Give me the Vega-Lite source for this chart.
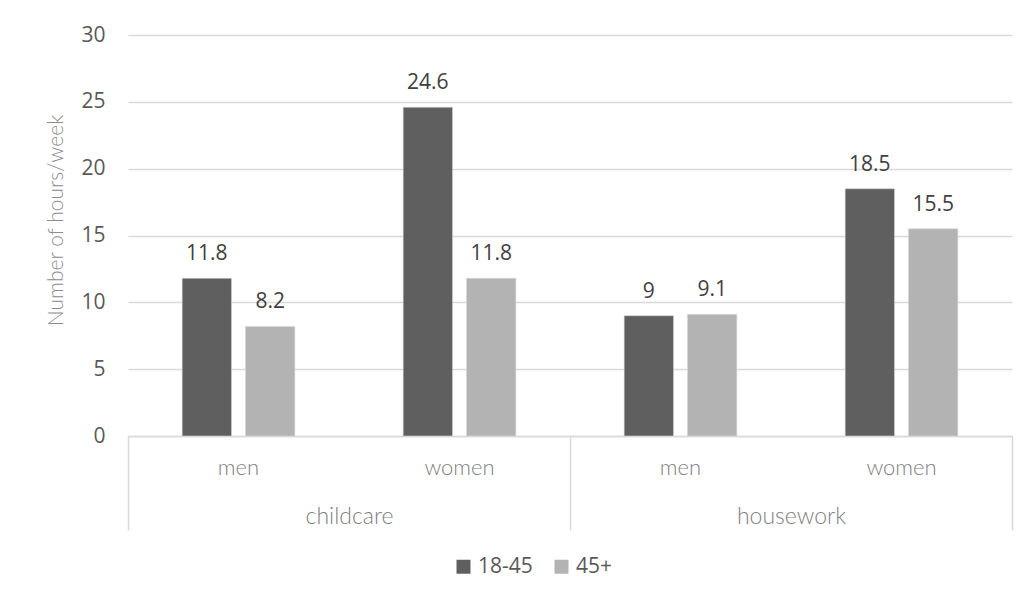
{
  "$schema": "https://vega.github.io/schema/vega-lite/v6.json",
  "width": 884,
  "height": 401,
  "autosize": {"type": "none"},
  "padding": {"left": 128, "top": 35, "right": 23, "bottom": 166},
  "background": "white",
  "config": {"font": "Open Sans", "view": {"stroke": null}},
  "data": {
    "values": [
      {"activity": "childcare", "gender": "men", "cat": "childcare|men", "age": "18-45", "hours": 11.8},
      {"activity": "childcare", "gender": "men", "cat": "childcare|men", "age": "45+", "hours": 8.2},
      {"activity": "childcare", "gender": "women", "cat": "childcare|women", "age": "18-45", "hours": 24.6},
      {"activity": "childcare", "gender": "women", "cat": "childcare|women", "age": "45+", "hours": 11.8},
      {"activity": "housework", "gender": "men", "cat": "housework|men", "age": "18-45", "hours": 9},
      {"activity": "housework", "gender": "men", "cat": "housework|men", "age": "45+", "hours": 9.1},
      {"activity": "housework", "gender": "women", "cat": "housework|women", "age": "18-45", "hours": 18.5},
      {"activity": "housework", "gender": "women", "cat": "housework|women", "age": "45+", "hours": 15.5}
    ]
  },
  "layer": [
    {
      "mark": {"type": "bar", "stroke": "#D9D9D9", "strokeWidth": 0.6},
      "encoding": {
        "x": {
          "field": "cat", "type": "nominal",
          "sort": ["childcare|men", "childcare|women", "housework|men", "housework|women"],
          "scale": {"paddingInner": 0.49, "paddingOuter": 0.245},
          "axis": {
            "orient": "bottom", "title": null, "labelAngle": 0,
            "labelExpr": "split(datum.label, '|')[1]",
            "ticks": false, "domain": true, "domainColor": "#D9D9D9", "domainWidth": 1.5,
            "labelFont": "Lato", "labelFontSize": 22, "labelFontWeight": 300, "labelColor": "#7F7F7F",
            "labelPadding": 21
          }
        },
        "xOffset": {"field": "age", "type": "nominal", "scale": {"paddingInner": 0.22}},
        "y": {
          "field": "hours", "type": "quantitative",
          "scale": {"domain": [0, 30]},
          "axis": {
            "values": [0, 5, 10, 15, 20, 25, 30],
            "title": "Number of hours/week",
            "titleFont": "Lato", "titleFontSize": 21, "titleFontWeight": 300, "titleColor": "#8C8C8C",
            "titlePadding": 14, "titleY": 185,
            "domain": false, "ticks": false,
            "labelFontSize": 21, "labelColor": "#595959", "labelPadding": 23,
            "gridColor": "#D9D9D9", "gridWidth": 1.5
          }
        },
        "color": {
          "field": "age", "type": "nominal",
          "scale": {"range": ["#5F5F5F", "#B3B3B3"]},
          "legend": {
            "title": null, "orient": "none", "legendX": 325, "legendY": 521,
            "direction": "horizontal", "symbolType": "square", "symbolSize": 196,
            "symbolStrokeWidth": 0, "labelFontSize": 21, "labelColor": "#595959",
            "padding": 0, "columnPadding": 18, "labelOffset": 4
          }
        }
      }
    },
    {
      "mark": {"type": "text", "fontSize": 21, "color": "#404040", "baseline": "alphabetic", "dy": -18},
      "encoding": {
        "x": {
          "field": "cat", "type": "nominal",
          "sort": ["childcare|men", "childcare|women", "housework|men", "housework|women"],
          "scale": {"paddingInner": 0.49, "paddingOuter": 0.245},
          "axis": null
        },
        "xOffset": {"field": "age", "type": "nominal", "scale": {"paddingInner": 0.22}},
        "y": {"field": "hours", "type": "quantitative"},
        "text": {"field": "hours", "type": "quantitative"}
      }
    },
    {
      "mark": {"type": "bar", "opacity": 0},
      "encoding": {
        "x": {
          "field": "activity", "type": "nominal",
          "scale": {"paddingInner": 0, "paddingOuter": 0},
          "axis": {
            "orient": "bottom", "title": null, "labelAngle": 0,
            "tickBand": "extent", "ticks": true, "tickSize": 94, "tickColor": "#D9D9D9", "tickWidth": 1.5,
            "domain": false, "grid": false,
            "labelFont": "Lato", "labelFontSize": 23, "labelFontWeight": 300, "labelColor": "#7F7F7F",
            "labelPadding": -25
          }
        }
      }
    }
  ],
  "resolve": {"scale": {"x": "independent"}}
}
